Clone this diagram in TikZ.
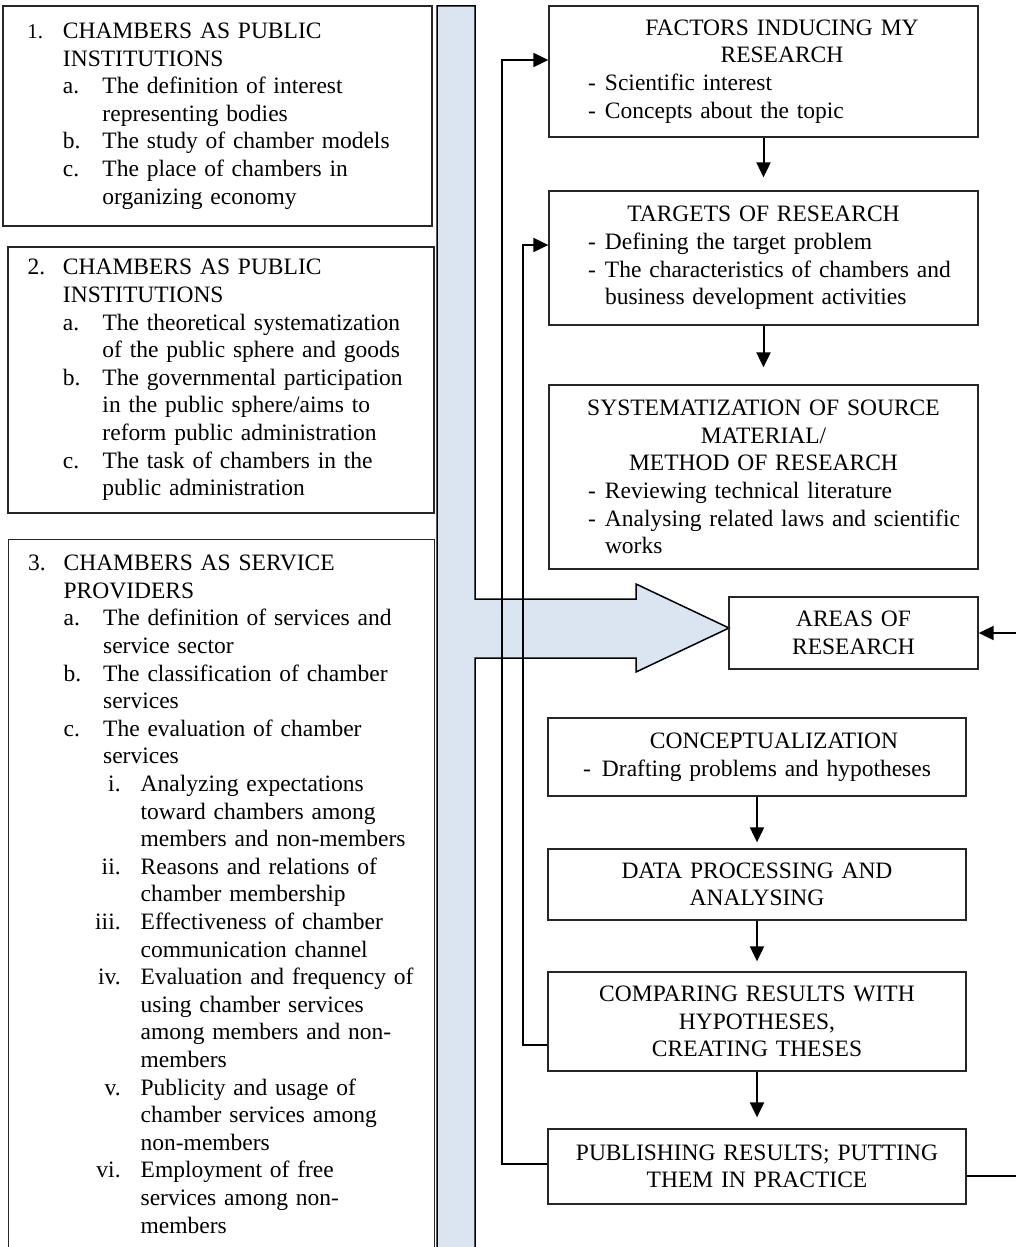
\documentclass[tikz,border=0pt]{standalone}
\usepackage{fontspec}
\setmainfont{Liberation Serif}
\usetikzlibrary{arrows.meta}
\definecolor{barblue}{RGB}{219,229,241}
\newlength\bo
\setlength\bo{0pt}
% left column list helpers
\newcommand\Ai[2]{\hspace*{\dimexpr\bo+9.75pt\relax}\makebox[17.75pt][l]{#1}#2}
\newcommand\Ac[1]{\hspace*{\dimexpr\bo+27.5pt\relax}#1}
\newcommand\Bi[2]{\hspace*{\dimexpr\bo+27.5pt\relax}\makebox[19.75pt][l]{#1}#2}
\newcommand\Bc[1]{\hspace*{\dimexpr\bo+47.25pt\relax}#1}
\newcommand\Ci[2]{\hspace*{\bo}\makebox[56pt][r]{#1}\hspace*{10pt}#2}
\newcommand\Cc[1]{\hspace*{\dimexpr\bo+66pt\relax}#1}
% right column helpers
\newcommand\Dl[1]{\hspace*{19.5pt}\makebox[8.5pt][l]{-}#1}
\newcommand\Dc[1]{\hspace*{28pt}#1}
\newcommand\Ctr[2]{\makebox[\linewidth][c]{\hspace*{#1}#2}}
\begin{document}
\begin{tikzpicture}[x=0.5pt,y=-0.5pt]
\tikzset{
  box/.style={draw=black!85, line width=0.65pt, inner sep=0pt,
    font=\fontsize{11.75pt}{13.8pt}\selectfont},
  conn/.style={line width=1pt, -{Triangle[length=7.5pt,width=7pt]}},
  bar/.style={draw=black, line width=0.75pt, fill=barblue},
}
\useasboundingbox (0,0) rectangle (1016,1247);

% big bar with arrow
\draw[bar] (437,1262) -- (437,6) -- (475,6) -- (475,599) -- (636,599) -- (636,584)
  -- (729,628) -- (636,672) -- (636,658) -- (475,658) -- (475,1262);

% left column
\node[box, text width=214.5pt, minimum height=110pt, align=left] (L1) at (217.5,116) {%
\setlength\bo{2.5pt}\Ai{{\fontsize{10.5pt}{12pt}\selectfont 1.}}{CHAMBERS AS PUBLIC}\\
\Ac{INSTITUTIONS}\\
\Bi{a.}{The definition of interest}\\
\Bc{representing bodies}\\
\Bi{b.}{The study of chamber models}\\
\Bi{c.}{The place of chambers in}\\
\Bc{organizing economy}};

\node[box, text width=213pt, minimum height=133pt, align=left] (L2) at (221,380) {%
\Ai{2.}{CHAMBERS AS PUBLIC}\\
\Ac{INSTITUTIONS}\\
\Bi{a.}{The theoretical systematization}\\
\Bc{of the public sphere and goods}\\
\Bi{b.}{The governmental participation}\\
\Bc{in the public sphere/aims to}\\
\Bc{reform public administration}\\
\Bi{c.}{The task of chambers in the}\\
\Bc{public administration}};

\node[box, text width=213pt, text height=15.5pt, text depth=360pt, align=left,
  anchor=north west] (L3) at (8,539) {%
\Ai{3.}{CHAMBERS AS SERVICE}\\
\Ac{PROVIDERS}\\
\Bi{a.}{The definition of services and}\\
\Bc{service sector}\\
\Bi{b.}{The classification of chamber}\\
\Bc{services}\\
\Bi{c.}{The evaluation of chamber}\\
\Bc{services}\\
\Ci{i.}{Analyzing expectations}\\
\Cc{toward chambers among}\\
\Cc{members and non-members}\\
\Ci{ii.}{Reasons and relations of}\\
\Cc{chamber membership}\\
\Ci{iii.}{Effectiveness of chamber}\\
\Cc{communication channel}\\
\Ci{iv.}{Evaluation and frequency of}\\
\Cc{using chamber services}\\
\Cc{among members and non-}\\
\Cc{members}\\
\Ci{v.}{Publicity and usage of}\\
\Cc{chamber services among}\\
\Cc{non-members}\\
\Ci{vi.}{Employment of free}\\
\Cc{services among non-}\\
\Cc{members}};

% right column
\node[box, text width=214.5pt, minimum height=65.5pt, align=left] (FAC) at (763.5,71.5) {%
\Ctr{18.5pt}{FACTORS INDUCING MY}\\
\Ctr{18.5pt}{RESEARCH}\\
\Dl{Scientific interest}\\
\Dl{Concepts about the topic}};

\node[box, text width=214.5pt, minimum height=67pt, align=left] (TAR) at (763.5,258) {%
\Ctr{0pt}{TARGETS OF RESEARCH}\\
\Dl{Defining the target problem}\\
\Dl{The characteristics of chambers and}\\
\Dc{business development activities}};

\node[box, text width=214.5pt, minimum height=92pt, align=left] (SYS) at (763.5,477) {%
\Ctr{0pt}{SYSTEMATIZATION OF SOURCE}\\
\Ctr{0pt}{MATERIAL/}\\
\Ctr{0pt}{METHOD OF RESEARCH}\\
\Dl{Reviewing technical literature}\\
\Dl{Analysing related laws and scientific}\\
\Dc{works}};

\node[box, text width=124.5pt, minimum height=36pt, align=center] (AREA) at (853.5,633)
  {AREAS OF\\RESEARCH};

\node[box, text width=209pt, minimum height=39pt, align=left] (CON) at (757,757) {%
\Ctr{17pt}{CONCEPTUALIZATION}\\
\hspace*{17.5pt}\makebox[9.5pt][l]{-}Drafting problems and hypotheses};

\node[box, text width=209pt, minimum height=35.5pt, align=center] (DAT) at (757,884.5)
  {DATA PROCESSING AND\\ANALYSING};

\node[box, text width=209pt, minimum height=49.5pt, align=center] (CMP) at (757,1021.5)
  {COMPARING RESULTS WITH\\HYPOTHESES,\\CREATING THESES};

\node[box, text width=209pt, minimum height=37.5pt, align=center] (PUB) at (757,1166.5)
  {PUBLISHING RESULTS; PUTTING\\THEM IN PRACTICE};

% downward connectors
\draw[conn, shorten >=6.5pt] (FAC) -- (TAR);
\draw[conn, shorten >=8.5pt] (TAR) -- (SYS);
\draw[conn, shorten >=3pt] (CON) -- (DAT);
\draw[conn, shorten >=5pt] (DAT) -- (CMP);
\draw[conn, shorten >=5.5pt] (CMP) -- (PUB);

% feedback connectors
\coordinate (fa) at (502,60);
\coordinate (fb) at (523,245);
\coordinate (fc) at (1021,1176);
\draw[conn] (PUB.west |- 0,1164) -| (fa) -- (fa -| FAC.west);
\draw[conn] (CMP.west |- 0,1045) -| (fb) -- (fb -| TAR.west);
\draw[conn] (PUB.east |- fc) -- (fc) |- (AREA.east);
\end{tikzpicture}
\end{document}
